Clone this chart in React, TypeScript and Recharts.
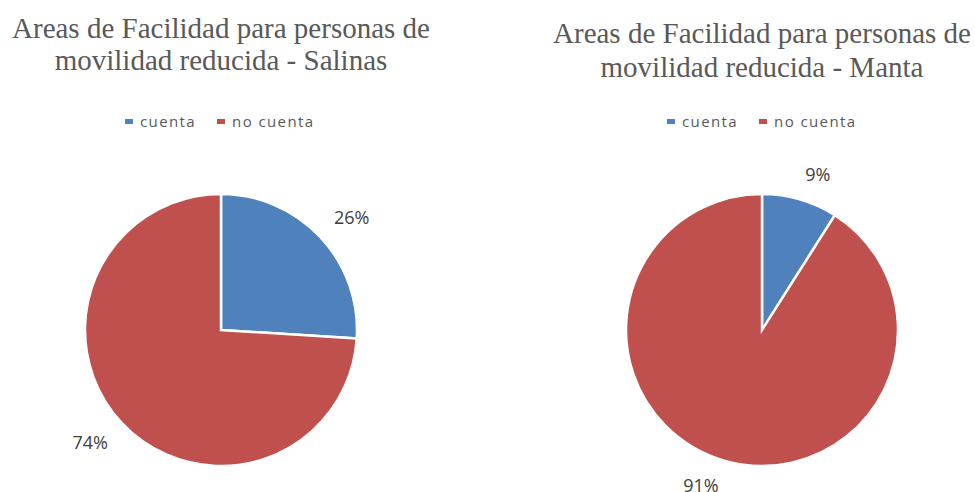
import React from "react";
import { PieChart, Pie, Cell, Legend } from "recharts";

const categories = ["cuenta", "no cuenta"];
const salinasValues = [26, 74];
const mantaValues = [9, 91];
const colors = ["#4F81BD", "#C0504D"];
const salinasTitle = ["Areas de Facilidad para personas de", "movilidad reducida - Salinas"];
const mantaTitle = ["Areas de Facilidad para personas de", "movilidad reducida - Manta"];

const RAD = Math.PI / 180;
const LABEL_FONT = 18;

const renderLabel = (props: any) => {
  const { cx, cy, midAngle, outerRadius, value } = props;
  const r = outerRadius + 19;
  const c = Math.cos(-midAngle * RAD);
  const s = Math.sin(-midAngle * RAD);
  const x = cx + r * c;
  const y = cy + r * s;
  const baseline = s < 0 ? y : y + LABEL_FONT * 0.714;
  return (
    <text
      x={x}
      y={baseline}
      textAnchor={c >= 0 ? "start" : "end"}
      fill="#404040"
      fontSize={LABEL_FONT}
      fontFamily="'Open Sans', sans-serif"
    >
      {`${value}%`}
    </text>
  );
};

const LegendContent = () => (
  <div
    style={{
      display: "flex",
      alignItems: "center",
      fontFamily: "'Open Sans', sans-serif",
      fontSize: 15,
      lineHeight: "20px",
      letterSpacing: "1.4px",
      color: "#595959",
      whiteSpace: "nowrap",
    }}
  >
    {categories.map((c, i) => (
      <div key={c} style={{ display: "flex", alignItems: "center", marginRight: i === 0 ? 21 : 0 }}>
        <span style={{ display: "inline-block", width: 8, height: 5, background: colors[i], marginRight: 7 }} />
        <span>{c}</span>
      </div>
    ))}
  </div>
);

function OnePie({ values, title, left, titleTop, titleLH, cx, legendLeft }: any) {
  const data = categories.map((name, i) => ({ name, value: values[i] }));
  return (
    <div style={{ position: "absolute", left, top: 0, width: 488, height: 492 }}>
      <div
        style={{
          position: "absolute",
          left: cx - 260,
          width: 520,
          top: titleTop,
          textAlign: "center",
          fontFamily: "'Liberation Serif', serif",
          fontSize: 29,
          lineHeight: `${titleLH}px`,
          color: "#595959",
          whiteSpace: "nowrap",
        }}
      >
        {title.map((t: string) => (
          <div key={t}>{t}</div>
        ))}
      </div>
      <PieChart
        width={488}
        height={492}
        margin={{ top: 0, right: 0, bottom: 0, left: 0 }}
        style={{ position: "absolute", left: 0, top: 0 }}
      >
        <Legend
          content={<LegendContent />}
          wrapperStyle={{ position: "absolute", top: 111, left: legendLeft, width: "auto" }}
        />
        <Pie
          data={data}
          dataKey="value"
          nameKey="name"
          cx={cx}
          cy={330}
          outerRadius={136}
          startAngle={90}
          endAngle={-270}
          stroke="#ffffff"
          strokeWidth={2.5}
          label={renderLabel}
          labelLine={false}
          isAnimationActive={false}
        >
          {data.map((d, i) => (
            <Cell key={d.name} fill={colors[i]} />
          ))}
        </Pie>
      </PieChart>
    </div>
  );
}

export default function App() {
  return (
    <div style={{ position: "absolute", left: 0, top: 0, width: 975, height: 492, background: "#ffffff", overflow: "hidden" }}>
      <OnePie values={salinasValues} title={salinasTitle} left={0} titleTop={12} titleLH={32} cx={221} legendLeft={125} />
      <OnePie values={mantaValues} title={mantaTitle} left={487} titleTop={16} titleLH={34} cx={275} legendLeft={180} />
    </div>
  );
}
